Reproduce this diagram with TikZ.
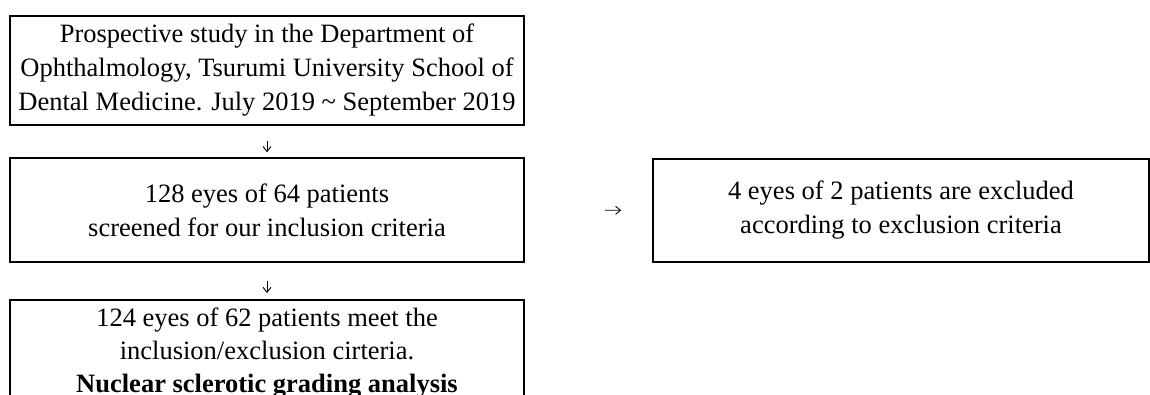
\documentclass[tikz,border=0pt]{standalone}
\usepackage{fontspec}
\setmainfont{Liberation Serif}
\usetikzlibrary{arrows.meta}
\begin{document}
\begin{tikzpicture}[x=1pt,y=-1pt,
  box/.style={draw, line width=1.5pt, rectangle, align=center,
    font=\fontsize{26.5}{34}\selectfont, inner sep=0pt},
  conn/.style={-{Straight Barb[length=5pt,width=8pt]}, line width=0.9pt}]
\useasboundingbox (0,0) rectangle (1150,394);
\clip (0,0) rectangle (1150,394);
\node[box, minimum width=514pt, minimum height=109pt] (b1) at (267,70.5)
  {Prospective study in the Department of\\Ophthalmology, Tsurumi University School of\\Dental Medicine. July 2019 \textasciitilde{} September 2019};
\node[box, minimum width=514pt, minimum height=104pt] (b2) at (267,210)
  {128 eyes of 64 patients\\screened for our inclusion criteria};
\node[box, minimum width=496pt, minimum height=103pt] (b4) at (901,210.5)
  {4 eyes of 2 patients are excluded\\according to exclusion criteria};
\node[box, anchor=north, minimum width=514pt, inner ysep=8.5pt,
  font=\fontsize{26.5}{33}\selectfont] (b3) at (267,299)
  {124 eyes of 62 patients meet the\\inclusion/exclusion cirteria.\\\textbf{Nuclear sclerotic grading analysis}};
\draw[conn, shorten <=15pt, shorten >=5pt] (b1) -- (b2);
\draw[conn, shorten <=18pt, shorten >=6pt] (b2) -- (b3);
\draw[conn, shorten <=80pt, shorten >=31pt] (b2) -- (b4);
\end{tikzpicture}
\end{document}
